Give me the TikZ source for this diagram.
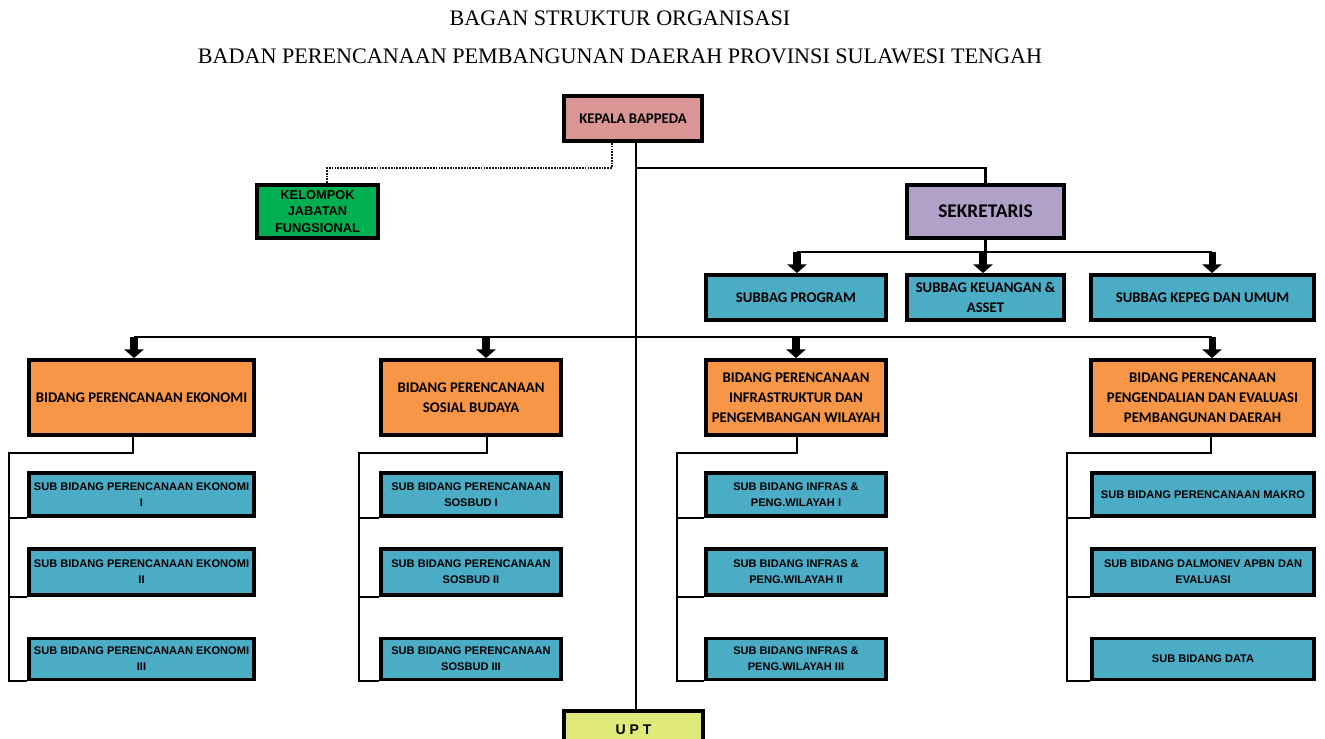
\documentclass[tikz,border=0pt]{standalone}
\usepackage{fontspec}
\setmainfont{Liberation Serif}
\newfontfamily\calibri{Carlito}
\newfontfamily\arial{Liberation Sans}
\usepackage{tikz}
\usetikzlibrary{arrows.meta, calc}
\definecolor{kepalaRed}{HTML}{D99694}
\definecolor{jfGreen}{HTML}{00B050}
\definecolor{sekLilac}{HTML}{B1A0C7}
\definecolor{subBlue}{HTML}{4BACC6}
\definecolor{bidOrange}{HTML}{F79646}
\definecolor{uptYellow}{HTML}{E0EA7A}
\tikzstyle{box}=[draw=black, line width=2.2pt, inner sep=0pt, align=center]
\tikzstyle{calibriText}=[font=\calibri\bfseries\fontsize{8.4}{11.3}\selectfont]
\tikzstyle{arialText}=[font=\arial\bfseries\fontsize{6.3}{9}\selectfont]
\tikzstyle{kepalaBox}=[box, calibriText, fill=kepalaRed, minimum width=2.76cm, minimum height=0.9cm]
\tikzstyle{jfBox}=[box, fill=jfGreen, minimum width=2.42cm, minimum height=1.06cm,
  font=\arial\bfseries\fontsize{7.3}{9.6}\selectfont]
\tikzstyle{sekBox}=[box, fill=sekLilac, minimum width=3.14cm, minimum height=1.06cm,
  font=\calibri\bfseries\fontsize{11}{13}\selectfont]
\tikzstyle{subbagBox}=[box, calibriText, fill=subBlue, minimum height=0.9cm]
\tikzstyle{bidBox}=[box, calibriText, fill=bidOrange, minimum height=1.5cm]
\tikzstyle{subBox}=[box, arialText, fill=subBlue]
\tikzstyle{uptBox}=[box, fill=uptYellow, minimum width=2.78cm, minimum height=0.76cm,
  font=\arial\bfseries\fontsize{8}{10}\selectfont]
\tikzstyle{conn}=[line width=1.2pt, draw=black]
\tikzstyle{dashline}=[line width=1.5pt, draw=black!90, dash pattern=on 1pt off 0.6pt]
\tikzstyle{bigArrow}=[-{Triangle[width=11pt,length=5pt]}, line width=4pt, draw=black]
\begin{document}
\begin{tikzpicture}[x=0.02cm, y=-0.02cm]
      \useasboundingbox (0,0) rectangle (1325,739);

      \node[font=\fontsize{12.6}{15}\selectfont] (judul1) at (620,18) {BAGAN STRUKTUR ORGANISASI};
      \node[font=\fontsize{12.6}{15}\selectfont] (judul2) at (620,56) {BADAN PERENCANAAN PEMBANGUNAN DAERAH PROVINSI SULAWESI TENGAH};

      \node[kepalaBox] (kepala) at (633,118.5) {KEPALA BAPPEDA};
      \node[jfBox] (jf) at (317.5,211.5) {KELOMPOK\\JABATAN\\FUNGSIONAL};
      \node[sekBox] (sek) at (985.5,211.5) {SEKRETARIS};

      \node[subbagBox, minimum width=3.6cm] (prog) at (796,297.5) {SUBBAG PROGRAM};
      \node[subbagBox, minimum width=3.14cm] (keu) at (985.5,297.5) {SUBBAG KEUANGAN \&\\ASSET};
      \node[subbagBox, minimum width=4.46cm] (kepeg) at (1202.5,297.5) {SUBBAG KEPEG DAN UMUM};

      \node[bidBox, minimum width=4.5cm] (eko) at (141.5,397.5) {BIDANG PERENCANAAN EKONOMI};
      \node[bidBox, minimum width=3.6cm] (sos) at (471,397.5) {BIDANG PERENCANAAN\\SOSIAL BUDAYA};
      \node[bidBox, minimum width=3.6cm] (inf) at (796,397.5) {BIDANG PERENCANAAN\\INFRASTRUKTUR DAN\\PENGEMBANGAN WILAYAH};
      \node[bidBox, minimum width=4.46cm] (pen) at (1202.5,397.5) {BIDANG PERENCANAAN\\PENGENDALIAN DAN EVALUASI\\PEMBANGUNAN DAERAH};

      % sub bidang
      \node[subBox, minimum width=4.5cm, minimum height=0.86cm] (eko1) at (141.5,494.5) {SUB BIDANG PERENCANAAN EKONOMI\\I};
      \node[subBox, minimum width=4.5cm, minimum height=0.92cm] (eko2) at (141.5,572) {SUB BIDANG PERENCANAAN EKONOMI\\II};
      \node[subBox, minimum width=4.5cm, minimum height=0.82cm] (eko3) at (141.5,659) {SUB BIDANG PERENCANAAN EKONOMI\\III};
      \node[subBox, minimum width=3.6cm, minimum height=0.86cm] (sos1) at (471,494.5) {SUB BIDANG PERENCANAAN\\SOSBUD I};
      \node[subBox, minimum width=3.6cm, minimum height=0.92cm] (sos2) at (471,572) {SUB BIDANG PERENCANAAN\\SOSBUD II};
      \node[subBox, minimum width=3.6cm, minimum height=0.82cm] (sos3) at (471,659) {SUB BIDANG PERENCANAAN\\SOSBUD III};
      \node[subBox, minimum width=3.6cm, minimum height=0.86cm] (inf1) at (796,494.5) {SUB BIDANG INFRAS \&\\PENG.WILAYAH I};
      \node[subBox, minimum width=3.6cm, minimum height=0.92cm] (inf2) at (796,572) {SUB BIDANG INFRAS \&\\PENG.WILAYAH II};
      \node[subBox, minimum width=3.6cm, minimum height=0.82cm] (inf3) at (796,659) {SUB BIDANG INFRAS \&\\PENG.WILAYAH III};
      \node[subBox, minimum width=4.44cm, minimum height=0.86cm] (pen1) at (1203,494.5) {SUB BIDANG PERENCANAAN MAKRO};
      \node[subBox, minimum width=4.44cm, minimum height=0.92cm] (pen2) at (1203,572) {SUB BIDANG DALMONEV APBN DAN\\EVALUASI};
      \node[subBox, minimum width=4.44cm, minimum height=0.82cm] (pen3) at (1203,659) {SUB BIDANG DATA};

      \node[uptBox] (upt) at (633.5,730) {U P T};

      % garis
      \draw[conn] (kepala.south -| 636,0) -- (upt.north -| 636,0);
      \draw[dashline] (kepala.south -| 612,0) |- (327,168) -- (jf.north -| 327,0);
      \draw[conn] (636,168) -| (sek.north);
      \draw[conn] (sek.south) -- (sek.south |- 0,252);
      \draw[conn] (797,252) -- (1212,252);
      \foreach \b/\x in {prog/797, keu/983, kepeg/1212}
      \draw[bigArrow] (\x,252) -- (\b.north -| \x,0);

      \draw[conn] (134,337) -- (1212,337);
      \foreach \b/\x in {eko/134, sos/486, inf/796, pen/1212}
      \draw[bigArrow] (\x,337) -- (\b.north -| \x,0);

      \foreach \c/\d/\l in {eko/133/9, sos/487/359, inf/797/677, pen/1211/1067}{
        \draw[conn] (\c.south -| \d,0) |- (\l,453) |- (\c3.south west);
        \draw[conn] (\c1.south west -| \l,0) -- (\c1.south west);
        \draw[conn] (\c2.south west -| \l,0) -- (\c2.south west);
      }
    \end{tikzpicture}
\end{document}
